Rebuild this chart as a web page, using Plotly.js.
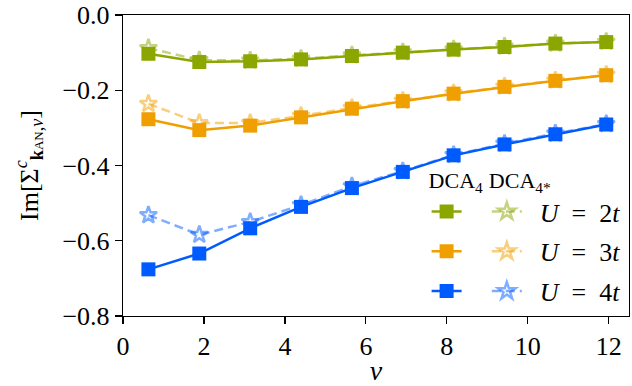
<!DOCTYPE html>
<html>
<head>
<meta charset="utf-8">
<script src="https://cdn.plot.ly/plotly-3.0.1.min.js"></script>
<style>
  html, body { margin: 0; padding: 0; background: #ffffff; }
  #chart { width: 632px; height: 386px; }
</style>
</head>
<body>
<div id="chart"></div>
<script>
// Matsubara frequencies
const nu = [0.628, 1.885, 3.142, 4.398, 5.655, 6.912, 8.168, 9.425, 10.681, 11.938];

// Im Sigma^c at k_AN, DCA_4 (squares) and DCA_4* (stars)
const dca4_U2 = [-0.103, -0.125, -0.123, -0.118, -0.109, -0.100, -0.092, -0.085, -0.076, -0.072];
const dca4s_U2 = [-0.088, -0.120, -0.121, -0.116, -0.107, -0.099, -0.091, -0.084, -0.076, -0.071];
const dca4_U3 = [-0.277, -0.306, -0.294, -0.272, -0.249, -0.229, -0.209, -0.191, -0.175, -0.160];
const dca4s_U3 = [-0.236, -0.287, -0.287, -0.268, -0.247, -0.228, -0.208, -0.190, -0.174, -0.159];
const dca4_U4 = [-0.676, -0.634, -0.567, -0.510, -0.460, -0.417, -0.373, -0.344, -0.317, -0.291];
const dca4s_U4 = [-0.532, -0.584, -0.550, -0.505, -0.455, -0.415, -0.372, -0.342, -0.315, -0.290];

const labels = ['<i>U</i>\u2002=\u20022<i>t</i>', '<i>U</i>\u2002=\u20023<i>t</i>', '<i>U</i>\u2002=\u20024<i>t</i>'];
const colors = ['#8CA600', '#EF9F00', '#005BFF'];
const faded = ['rgba(140,166,0,0.5)', 'rgba(239,159,0,0.5)', 'rgba(0,91,255,0.5)'];

const squareSets = [dca4_U2, dca4_U3, dca4_U4];
const starSets = [dca4s_U2, dca4s_U3, dca4s_U4];

const FONT = 'Liberation Serif, Times New Roman, serif';
const traces = [];

// dashed star series (drawn first, beneath the squares)
starSets.forEach((ys, i) => {
  traces.push({
    x: nu, y: ys, type: 'scatter', mode: 'lines+markers',
    name: '\u2002' + labels[i],
    legend: 'legend2', legendgroup: 'g' + i,
    line: { color: faded[i], width: 2.5, dash: '9px,5px' },
    marker: { symbol: 'star-open', size: 13, color: faded[i], line: { width: 2.5, color: faded[i] } },
    hoverinfo: 'skip'
  });
});

// solid square series
squareSets.forEach((ys, i) => {
  traces.push({
    x: nu, y: ys, type: 'scatter', mode: 'lines+markers',
    name: '\u00a0',
    legend: 'legend', legendgroup: 'g' + i,
    line: { color: colors[i], width: 2.5 },
    marker: { symbol: 'square', size: 14, color: colors[i] },
    hoverinfo: 'skip'
  });
});

const layout = {
  width: 632, height: 386,
  margin: { l: 123, r: 3, t: 15, b: 70, autoexpand: false },
  paper_bgcolor: '#ffffff', plot_bgcolor: '#ffffff',
  font: { family: FONT, size: 26, color: '#000000' },
  showlegend: true,
  xaxis: {
    range: [0, 12.5], tickvals: [0, 2, 4, 6, 8, 10, 12],
    ticks: 'outside', ticklen: 7, tickwidth: 1.2, tickcolor: '#000',
    showline: true, linecolor: '#000', linewidth: 1.2, mirror: true,
    showgrid: false, zeroline: false, automargin: false,
    tickfont: { family: FONT, size: 26 },
    title: { text: '<i>ν</i>', font: { family: FONT, size: 28 }, standoff: 2 }
  },
  yaxis: {
    range: [-0.8, 0], tickvals: [-0.8, -0.6, -0.4, -0.2, 0],
    ticktext: ['\u22120.8', '\u22120.6', '\u22120.4', '\u22120.2', '0.0'],
    ticks: 'outside', ticklen: 7, tickwidth: 1.2, tickcolor: '#000',
    showline: true, linecolor: '#000', linewidth: 1.2, mirror: true,
    showgrid: false, zeroline: false, automargin: false,
    tickfont: { family: FONT, size: 26 },
    title: {
      text: 'Im[Σ<sup><i>c</i></sup><sub><b>k</b><span style="font-size:13px">AN</span>,<i>ν</i></sub>]',
      font: { family: FONT, size: 26 }, standoff: 16
    }
  },
  legend: {
    x: 0.60, y: 0.52, xanchor: 'left', yanchor: 'top',
    bgcolor: 'rgba(0,0,0,0)', borderwidth: 0,
    font: { family: FONT, size: 26 }, tracegroupgap: 3,
    title: { text: 'DCA<sub>4</sub>', side: 'top', font: { family: FONT, size: 22 } }
  },
  legend2: {
    x: 0.719, y: 0.52, xanchor: 'left', yanchor: 'top',
    bgcolor: 'rgba(0,0,0,0)', borderwidth: 0,
    font: { family: FONT, size: 26 }, tracegroupgap: 3,
    title: { text: 'DCA<sub>4*</sub>', side: 'top', font: { family: FONT, size: 22 } }
  }
};

Plotly.newPlot('chart', traces, layout, { displayModeBar: false, staticPlot: true });
</script>
</body>
</html>
